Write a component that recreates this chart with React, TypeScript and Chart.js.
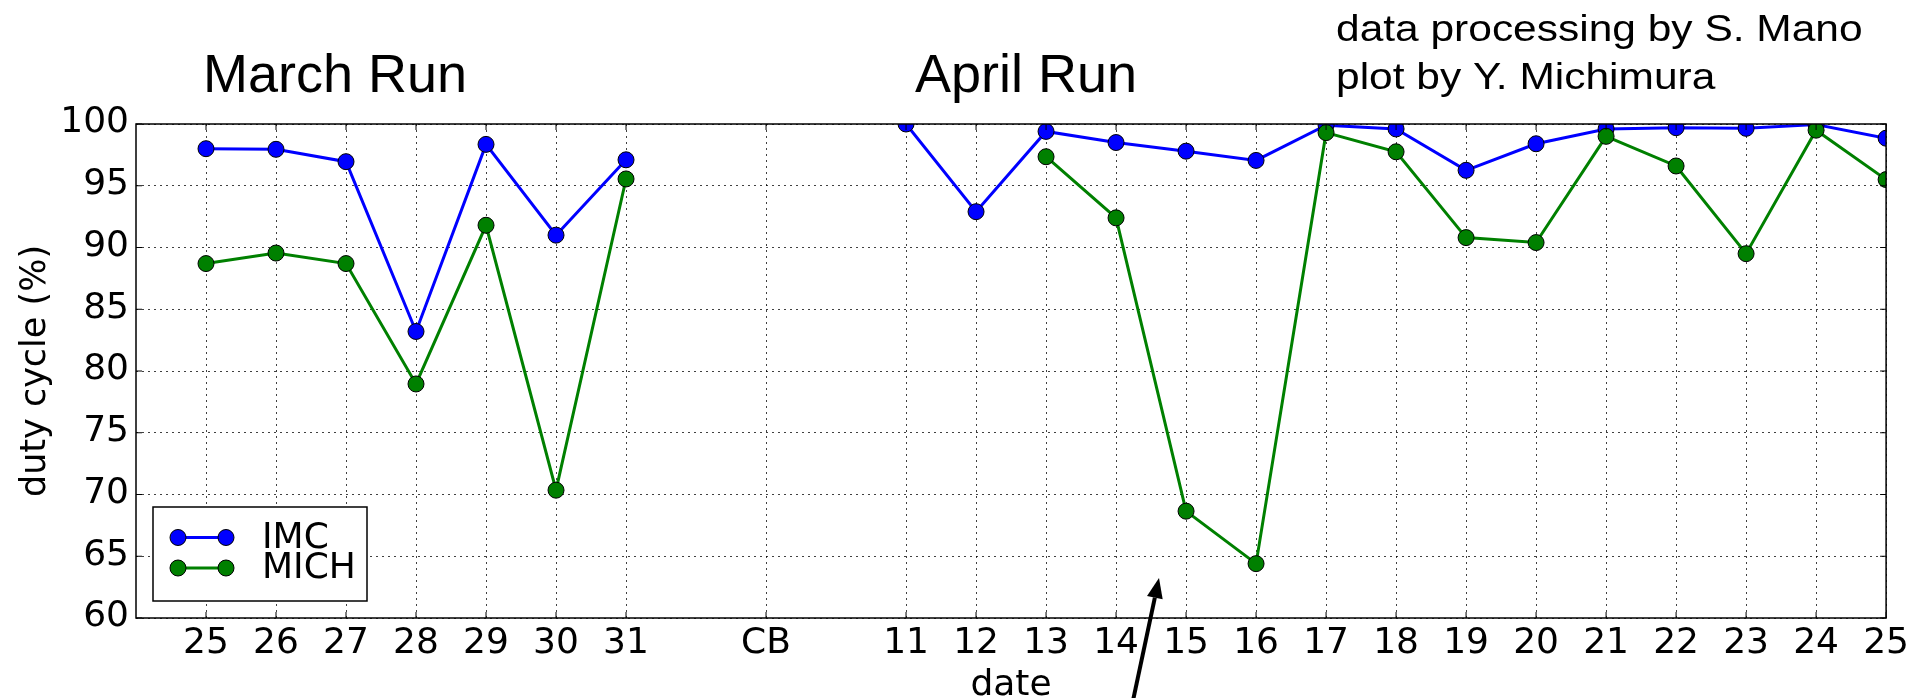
import React, { useEffect, useRef } from 'react';
import { Chart, registerables } from 'chart.js';

Chart.register(...registerables);

// ---- data ----
const marchDates = ['25', '26', '27', '28', '29', '30', '31'];
const breakLabel = 'CB';
const aprilDates = ['11', '12', '13', '14', '15', '16', '17', '18', '19', '20', '21', '22', '23', '24', '25'];

const imcMarch = [98.0, 97.95, 96.95, 83.2, 98.35, 91.0, 97.1];
const michMarch = [88.7, 89.55, 88.7, 78.95, 91.8, 70.35, 95.55];
const imcApril = [100.0, 92.9, 99.4, 98.5, 97.8, 97.05, 99.9, 99.6, 96.25, 98.4, 99.6, 99.7, 99.65, 99.95, 98.85];
const michApril = [null, null, 97.35, 92.4, 68.65, 64.4, 99.3, 97.75, 90.8, 90.4, 99.0, 96.6, 89.5, 99.5, 95.5];

const seriesNames = ['IMC', 'MICH'];
const seriesColors = ['#0000ff', '#008000'];

const yMin = 60;
const yMax = 100;
const yStep = 5;

const xTitle = 'date';
const yTitle = 'duty cycle (%)';
const runTitles = ['March Run', 'April Run'];
const credits = ['data processing by S. Mano', 'plot by Y. Michimura'];

// category axis: empty slot, March dates, empty, CB, empty, April dates
const xLabels: string[] = ['', ...marchDates, '', breakLabel, '', ...aprilDates];
const buildSeries = (m: (number | null)[], a: (number | null)[]) => [null, ...m, null, null, null, ...a];

const TICK_FONT = '"DejaVu Sans", sans-serif';
const ANNOT_FONT = '"Liberation Sans", Arial, sans-serif';

function drawMarker(ctx: CanvasRenderingContext2D, x: number, y: number, color: string) {
  ctx.beginPath();
  ctx.arc(x, y, 8, 0, Math.PI * 2);
  ctx.fillStyle = color;
  ctx.fill();
  ctx.lineWidth = 1;
  ctx.strokeStyle = '#000';
  ctx.stroke();
}

const decorPlugin = {
  id: 'decor',
  afterDraw(chart: any) {
    const { ctx, chartArea: a, scales } = chart;
    const xs = scales.x;
    const ys = scales.y;
    ctx.save();

    // frame
    ctx.strokeStyle = '#000';
    ctx.lineWidth = 1.5;
    ctx.strokeRect(a.left, a.top, a.right - a.left, a.bottom - a.top);

    // inward tick marks
    ctx.lineWidth = 1;
    ctx.beginPath();
    xLabels.forEach((lab, i) => {
      if (!lab) return;
      const px = xs.getPixelForValue(i);
      ctx.moveTo(px, a.bottom);
      ctx.lineTo(px, a.bottom - 6);
      ctx.moveTo(px, a.top);
      ctx.lineTo(px, a.top + 6);
    });
    ys.ticks.forEach((t: any) => {
      const py = ys.getPixelForValue(t.value);
      ctx.moveTo(a.left, py);
      ctx.lineTo(a.left + 6, py);
      ctx.moveTo(a.right, py);
      ctx.lineTo(a.right - 6, py);
    });
    ctx.stroke();

    // legend (lower left inside axes)
    const bw = 214;
    const bh = 94;
    const bx = a.left + 17;
    const by = a.bottom - 17 - bh;
    ctx.fillStyle = '#fff';
    ctx.fillRect(bx, by, bw, bh);
    ctx.strokeStyle = '#000';
    ctx.lineWidth = 1.5;
    ctx.strokeRect(bx, by, bw, bh);
    seriesNames.forEach((name, i) => {
      const ry = by + 30.5 + i * 30.5;
      const x1 = bx + 25;
      const x2 = bx + 73;
      ctx.beginPath();
      ctx.moveTo(x1, ry);
      ctx.lineTo(x2, ry);
      ctx.strokeStyle = seriesColors[i];
      ctx.lineWidth = 3;
      ctx.stroke();
      drawMarker(ctx, x1, ry, seriesColors[i]);
      drawMarker(ctx, x2, ry, seriesColors[i]);
      ctx.fillStyle = '#000';
      ctx.font = `36px ${TICK_FONT}`;
      ctx.textAlign = 'left';
      ctx.textBaseline = 'middle';
      ctx.fillText(name, bx + 109, ry + 1);
    });

    // axis titles
    ctx.fillStyle = '#000';
    ctx.font = `36px ${TICK_FONT}`;
    ctx.textAlign = 'center';
    ctx.textBaseline = 'alphabetic';
    ctx.fillText(xTitle, (a.left + a.right) / 2, 695);
    ctx.save();
    ctx.translate(45, (a.top + a.bottom) / 2);
    ctx.rotate(-Math.PI / 2);
    ctx.font = `35px ${TICK_FONT}`;
    ctx.fillText(yTitle, 0, 0);
    ctx.restore();

    // run titles
    ctx.textAlign = 'left';
    ctx.font = `54px ${ANNOT_FONT}`;
    ctx.fillText(runTitles[0], 203, 92);
    ctx.fillText(runTitles[1], 915, 92);

    // credits
    ctx.font = `36px ${ANNOT_FONT}`;
    credits.forEach((line, i) => {
      ctx.save();
      ctx.translate(1336, 41 + i * 48);
      ctx.scale(1.18, 1);
      ctx.fillText(line, 0, 0);
      ctx.restore();
    });

    // arrow
    const tipX = 1159;
    const tipY = 578;
    const tailX = 1131;
    const tailY = 710;
    const ang = Math.atan2(tipY - tailY, tipX - tailX);
    const headLen = 20;
    const headHalf = 8;
    const baseX = tipX - headLen * Math.cos(ang);
    const baseY = tipY - headLen * Math.sin(ang);
    ctx.strokeStyle = '#000';
    ctx.lineWidth = 4;
    ctx.beginPath();
    ctx.moveTo(tailX, tailY);
    ctx.lineTo(baseX, baseY);
    ctx.stroke();
    ctx.beginPath();
    ctx.moveTo(tipX, tipY);
    ctx.lineTo(baseX + headHalf * Math.sin(ang), baseY - headHalf * Math.cos(ang));
    ctx.lineTo(baseX - headHalf * Math.sin(ang), baseY + headHalf * Math.cos(ang));
    ctx.closePath();
    ctx.fillStyle = '#000';
    ctx.fill();

    ctx.restore();
  },
};

export default function App() {
  const canvasRef = useRef<HTMLCanvasElement | null>(null);

  useEffect(() => {
    if (!canvasRef.current) return;
    const gridColor = 'rgba(0,0,0,0.75)';
    const chart = new Chart(canvasRef.current, {
      type: 'line',
      data: {
        labels: xLabels,
        datasets: [
          {
            label: seriesNames[0],
            data: buildSeries(imcMarch, imcApril),
            borderColor: seriesColors[0],
            backgroundColor: seriesColors[0],
            pointBackgroundColor: seriesColors[0],
            pointBorderColor: '#000',
            pointBorderWidth: 1,
            pointRadius: 8,
            pointHoverRadius: 8,
            borderWidth: 3,
            tension: 0,
            spanGaps: false,
            clip: 0,
            order: 1,
          },
          {
            label: seriesNames[1],
            data: buildSeries(michMarch, michApril),
            borderColor: seriesColors[1],
            backgroundColor: seriesColors[1],
            pointBackgroundColor: seriesColors[1],
            pointBorderColor: '#000',
            pointBorderWidth: 1,
            pointRadius: 8,
            pointHoverRadius: 8,
            borderWidth: 3,
            tension: 0,
            spanGaps: false,
            clip: 0,
            order: 0,
          },
        ],
      },
      options: {
        animation: false,
        responsive: true,
        maintainAspectRatio: false,
        layout: { padding: { left: 0, right: 25, top: 124, bottom: 0 } },
        plugins: {
          legend: { display: false },
          tooltip: { enabled: false },
          title: { display: false },
        },
        scales: {
          x: {
            type: 'category',
            offset: false,
            afterFit: (s: any) => {
              s.height = 80;
            },
            grid: {
              drawTicks: false,
              lineWidth: 1,
              color: (c: any) => {
                const i = c.tick ? c.tick.value : c.index;
                return xLabels[i] ? gridColor : 'rgba(0,0,0,0)';
              },
            },
            border: { display: false, dash: [2, 4] },
            ticks: {
              autoSkip: false,
              maxRotation: 0,
              minRotation: 0,
              padding: 4,
              color: '#000',
              font: { family: TICK_FONT, size: 36 },
            },
          },
          y: {
            type: 'linear',
            min: yMin,
            max: yMax,
            afterFit: (s: any) => {
              s.width = 136;
            },
            grid: { drawTicks: false, lineWidth: 1, color: gridColor },
            border: { display: false, dash: [2, 4] },
            ticks: {
              stepSize: yStep,
              padding: 7,
              labelOffset: -1,
              color: '#000',
              font: { family: TICK_FONT, size: 36 },
            },
          },
        },
      },
      plugins: [decorPlugin],
    });
    return () => chart.destroy();
  }, []);

  return (
    <div style={{ position: 'absolute', left: 0, top: 0, width: '1913px', height: '698px', background: '#fff' }}>
      <canvas ref={canvasRef} />
    </div>
  );
}
